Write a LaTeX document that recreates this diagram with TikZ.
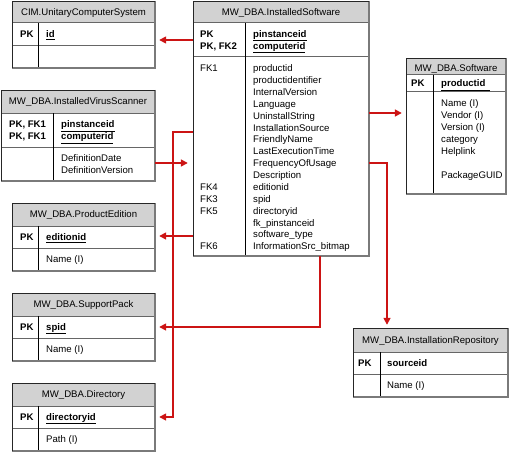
\documentclass[tikz,border=0pt]{standalone}
\usepackage{fontspec}
\setmainfont{Liberation Sans}
\usetikzlibrary{arrows.meta,fit}
\definecolor{hdrgray}{HTML}{D2D2D2}
\definecolor{fkred}{HTML}{CC1414}
\definecolor{shadegray}{HTML}{7A7A7A}
\tikzset{
  rowline/.style={draw=black!60,line width=1pt},
  colline/.style={draw=black,line width=0.8pt},
  edgeshade/.style={draw=shadegray,line width=1.6pt},
  edgedark/.style={draw=black!85,line width=0.9pt},
  txt/.style={anchor=base west,inner sep=0pt,font=\fontsize{9.6}{12}\selectfont},
  hdrtxt/.style={anchor=base,inner sep=0pt,font=\fontsize{9.6}{12}\selectfont},
  fk/.style={draw=fkred,line width=1.6pt,-{Triangle[length=7pt,width=7pt]},shorten >=4pt},
}
\newcommand\erbox[8]{%
  \fill[hdrgray] (#2,#3) rectangle (#4,#6);
  \draw[rowline] (#2,#6) -- (#4,#6) (#2,#7) -- (#4,#7);
  \draw[colline] (#8,#6) -- (#8,#5);
  \draw[edgeshade] (#4,#3) -- (#4,#5) -- (#2,#5);
  \draw[edgedark] (#2,#5) -- (#2,#3) -- (#4,#3);
  \node[fit={(#2,#3)(#4,#5)},inner sep=0pt] (#1) {};
}
\newcommand\txtcol[4]{\foreach \t [count=\i from 0] in {#4}{\node[txt] (#1\i) at (#2,{#3+11.87*\i}) {\t};}}
\newcommand\keyname[1]{\textbf{\underline{#1}}}
\begin{document}
\begin{tikzpicture}[x=1pt,y=-1pt]
\useasboundingbox (0,0) rectangle (509,452);
% boxes
\erbox{cim}{12}{1}{155}{68}{23}{46}{38}
\erbox{ivs}{1}{90}{155}{181}{113}{147}{53}
\erbox{is}{193}{1}{369}{256}{23}{57}{245}
\erbox{sw}{406}{58}{506}{194}{75}{92}{433}
\erbox{pe}{12}{203}{155}{271}{226}{248}{38}
\erbox{sp}{12}{293}{155}{361}{316}{338}{38}
\erbox{dir}{12}{383}{155}{451}{406}{428}{38}
\erbox{ir}{353}{328}{508}{397}{352}{374}{380}
% CIM
\node[hdrtxt] (cimh) at (83.5,15.8) {CIM.UnitaryComputerSystem};
\node[txt] (cimk) at (20,37.3) {\textbf{PK}};
\node[txt] (cimf) at (46,37.3) {\keyname{id}};
% InstalledVirusScanner
\node[hdrtxt] (ivsh) at (78,105) {MW\_DBA.InstalledVirusScanner};
\txtcol{ivsk}{9}{127.7}{\textbf{PK, FK1},\textbf{PK, FK1}}
\txtcol{ivsf}{61}{127.7}{\keyname{pinstanceid},\keyname{computerid}}
\txtcol{ivsa}{61}{161.3}{DefinitionDate,DefinitionVersion}
% InstalledSoftware
\node[hdrtxt] (ish) at (281,15.8) {MW\_DBA.InstalledSoftware};
\txtcol{isk}{200}{37.3}{\textbf{PK},\textbf{PK, FK2}}
\txtcol{isf}{253}{37.3}{\keyname{pinstanceid},\keyname{computerid}}
\node[txt] (isfk1) at (200,71.7) {FK1};
\node[txt] (isfk4) at (200,190.4) {FK4};
\node[txt] (isfk3) at (200,202.3) {FK3};
\node[txt] (isfk5) at (200,214.2) {FK5};
\node[txt] (isfk6) at (200,249.8) {FK6};
\txtcol{isa}{253}{71.7}{productid,productidentifier,InternalVersion,Language,UninstallString,InstallationSource,FriendlyName,LastExecutionTime,FrequencyOfUsage,Description,editionid,spid,directoryid,fk\_pinstanceid,software\_type,InformationSrc\_bitmap}
% Software
\node[hdrtxt] (swh) at (456,71.3) {MW\_DBA.Software};
\node[txt] (swk) at (411,87) {\textbf{PK}};
\node[txt] (swf) at (441,87) {\keyname{productid\hspace{5pt}}};
\txtcol{swa}{441}{106.7}{Name (I),Vendor (I),Version (I),category,Helplink}
\node[txt] (swg) at (441,178.2) {PackageGUID};
% ProductEdition
\node[hdrtxt] (peh) at (83.5,217.5) {MW\_DBA.ProductEdition};
\node[txt] (pek) at (20,240.3) {\textbf{PK}};
\node[txt] (pef) at (46,240.3) {\keyname{editionid}};
\node[txt] (pea) at (46,262.7) {Name (I)};
% SupportPack
\node[hdrtxt] (sph) at (83.5,307.5) {MW\_DBA.SupportPack};
\node[txt] (spk) at (20,330.3) {\textbf{PK}};
\node[txt] (spf) at (46,330.3) {\keyname{spid}};
\node[txt] (spa) at (46,352.7) {Name (I)};
% Directory
\node[hdrtxt] (dirh) at (83.5,397.5) {MW\_DBA.Directory};
\node[txt] (dirk) at (20,420.3) {\textbf{PK}};
\node[txt] (dirf) at (46,420.3) {\keyname{directoryid}};
\node[txt] (dira) at (46,442.7) {Path (I)};
% InstallationRepository
\node[hdrtxt] (irh) at (430.5,343.5) {MW\_DBA.InstallationRepository};
\node[txt] (irk) at (358,366) {\textbf{PK}};
\node[txt] (irf) at (387,366) {\textbf{sourceid}};
\node[txt] (ira) at (387,388.3) {Name (I)};
% connectors
\coordinate (dirbend) at (173,132);
\coordinate (spbend) at (320,327);
\coordinate (irbend) at (387,163);
\draw[fk] (is.west |- 0,40) -- (cim.east |- 0,40);
\draw[fk,shorten >=5pt] (ivs.east |- 0,163) -- (is.west |- 0,163);
\draw[fk] (is.west |- dirbend) -- (dirbend) |- (dir.east |- 0,417);
\draw[fk] (is.west |- 0,236) -- (pe.east |- 0,236);
\draw[fk] (is.south -| spbend) -- (spbend) -- (sp.east |- spbend);
\draw[fk] (is.east |- 0,113) -- (sw.west |- 0,113);
\draw[fk,shorten >=3pt] (is.east |- irbend) -- (irbend) -- (ir.north -| irbend);
\end{tikzpicture}
\end{document}
